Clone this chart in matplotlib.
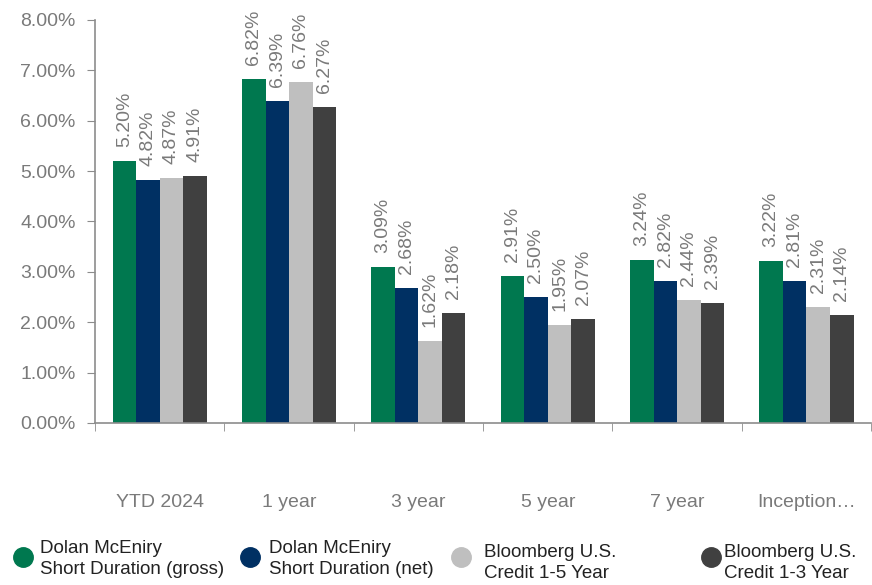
import matplotlib.pyplot as plt
from matplotlib.lines import Line2D
import numpy as np

plt.rcParams['font.family'] = ['Liberation Sans', 'DejaVu Sans']

periods = ["YTD 2024", "1 year", "3 year", "5 year", "7 year", "Inception\u2026"]
series_names = ["Dolan McEniry\nShort Duration (gross)",
                "Dolan McEniry\nShort Duration (net)",
                "Bloomberg U.S.\nCredit 1-5 Year",
                "Bloomberg U.S.\nCredit 1-3 Year"]
gross = [5.20, 6.82, 3.09, 2.91, 3.24, 3.22]
net = [4.82, 6.39, 2.68, 2.50, 2.82, 2.81]
credit_1_5 = [4.87, 6.76, 1.62, 1.95, 2.44, 2.31]
credit_1_3 = [4.91, 6.27, 2.18, 2.07, 2.39, 2.14]
y_ticks = [0, 1, 2, 3, 4, 5, 6, 7, 8]

colors = ["#00784f", "#003063", "#bfbfbf", "#404040"]
text_gray = "#7a7a7a"

fig = plt.figure(figsize=(8.72, 5.85), dpi=100)
ax = fig.add_axes([0.109, 0.277, 0.890, 0.689])

x = np.arange(len(periods))
width = 0.182
all_series = [gross, net, credit_1_5, credit_1_3]
for i, vals in enumerate(all_series):
    bars = ax.bar(x + (i - 1.5) * width, vals, width, color=colors[i])
    ax.bar_label(bars, labels=[f"{v:.2f}%" for v in vals], rotation=90,
                 padding=10, fontsize=14, color=text_gray)

ax.set_xlim(-0.5, len(periods) - 0.5)
ax.set_ylim(0, 8)
ax.set_yticks(y_ticks)
ax.set_yticklabels([f"{t:.2f}%" for t in y_ticks], fontsize=14, color=text_gray)
ax.set_xticks(x)
ax.set_xticklabels(periods, fontsize=14, color=text_gray)
ax.set_xticks(np.arange(len(periods) + 1) - 0.5, minor=True)
ax.tick_params(axis='x', which='major', length=0, pad=51)
ax.tick_params(axis='x', which='minor', length=6, color="#8c8c8c")
ax.tick_params(axis='y', length=6, color="#8c8c8c", pad=8)

for s in ["top", "right"]:
    ax.spines[s].set_visible(False)
for s in ["left", "bottom"]:
    ax.spines[s].set_color("#8c8c8c")
    ax.spines[s].set_linewidth(1.2)

# legend placed by hand to follow the uneven spacing of the original
marker_x = [0.026, 0.287, 0.529, 0.815]
text_x = [0.046, 0.309, 0.555, 0.830]
text_y = [0.045, 0.045, 0.038, 0.038]
for i, name in enumerate(series_names):
    fig.add_artist(Line2D([marker_x[i]], [0.048], marker='o', markersize=14,
                          color=colors[i], transform=fig.transFigure))
    fig.text(text_x[i], text_y[i], name, fontsize=13.5, color="#222222",
             va='center', linespacing=1.3)

fig.savefig("out.png", dpi=100)
